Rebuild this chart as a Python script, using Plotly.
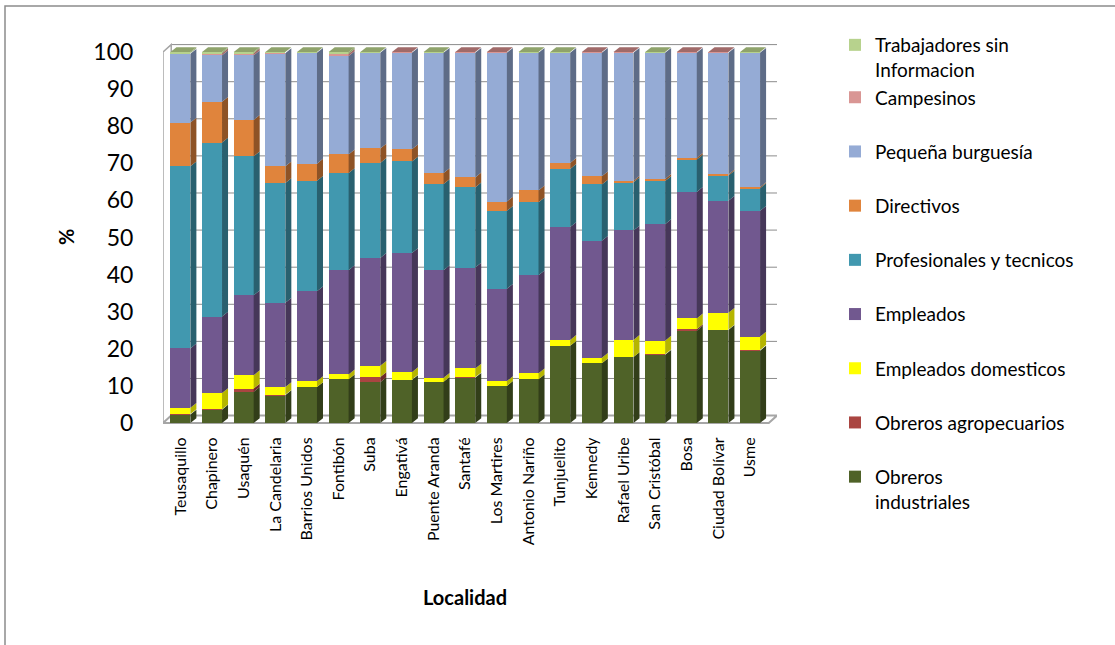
import plotly.graph_objects as go

localidades = ["Teusaquillo", "Chapinero", "Usaquén", "La Candelaria", "Barrios Unidos",
               "Fontibón", "Suba", "Engativá", "Puente Aranda", "Santafé", "Los Martires",
               "Antonio Nariño", "Tunjuelito", "Kennedy", "Rafael Uribe", "San Cristóbal",
               "Bosa", "Ciudad Bolívar", "Usme"]

obreros_industriales = [2.3, 3.6, 8.4, 7.5, 9.7, 11.8, 11.0, 11.6, 11.1, 12.2, 10.0, 11.8, 20.8, 16.1, 17.8, 18.4, 24.9, 25.1, 19.5]
obreros_agropecuarios = [0.1, 0.1, 0.9, 0.1, 0.0, 0.0, 1.4, 0.1, 0.0, 0.1, 0.0, 0.0, 0.0, 0.0, 0.0, 0.1, 0.4, 0.1, 0.2]
empleados_domesticos = [1.7, 4.4, 3.6, 2.1, 1.6, 1.3, 3.0, 2.0, 1.1, 2.4, 1.3, 1.6, 1.6, 1.5, 4.6, 3.7, 2.9, 4.5, 3.6]
empleados = [16.0, 20.6, 21.5, 22.7, 24.2, 28.1, 29.1, 32.1, 29.0, 27.2, 24.9, 26.4, 30.4, 31.5, 29.5, 31.4, 34.1, 30.2, 33.9]
profesionales_tecnicos = [49.1, 46.9, 37.5, 32.3, 29.8, 26.2, 25.6, 24.7, 23.2, 21.6, 21.0, 19.7, 15.7, 15.2, 13.0, 11.6, 8.7, 6.8, 6.1]
directivos = [11.8, 11.0, 9.8, 4.5, 4.6, 5.0, 3.9, 3.3, 3.0, 2.7, 2.5, 3.2, 1.6, 2.2, 0.4, 0.6, 0.5, 0.3, 0.3]
pequena_burguesia = [18.5, 12.5, 17.4, 30.5, 29.9, 26.5, 25.8, 26.0, 32.4, 33.6, 40.1, 37.1, 29.7, 33.3, 34.5, 34.0, 28.3, 32.8, 36.2]
campesinos = [0.2, 0.6, 0.6, 0.1, 0.1, 0.6, 0.1, 0.2, 0.0, 0.2, 0.2, 0.1, 0.0, 0.2, 0.2, 0.0, 0.2, 0.2, 0.0]
trabajadores_sin_info = [0.3, 0.3, 0.3, 0.2, 0.1, 0.5, 0.1, 0.0, 0.2, 0.0, 0.0, 0.1, 0.2, 0.0, 0.0, 0.2, 0.0, 0.0, 0.2]

y_ticks = [0, 10, 20, 30, 40, 50, 60, 70, 80, 90, 100]

# (legend label, values, front colour, side colour, legend group, legend rank), bottom to top
series = [
    ("Obreros<br>industriales", obreros_industriales, "#4F6228", "#323E19", "oi", 9),
    ("Obreros agropecuarios", obreros_agropecuarios, "#AA4541", "#6B2A28", "oa", 8),
    ("Empleados domesticos", empleados_domesticos, "#FFFF00", "#B5B500", "ed", 7),
    ("Empleados", empleados, "#71588F", "#463759", "emp", 6),
    ("Profesionales y tecnicos", profesionales_tecnicos, "#4198AF", "#29606F", "prof", 5),
    ("Directivos", directivos, "#E0843C", "#8E5326", "dir", 4),
    ("Pequeña burguesía", pequena_burguesia, "#95ABD5", "#5E6C87", "pb", 3),
    ("Campesinos", campesinos, "#D99694", "#A06A69", "top", 2),
    ("Trabajadores sin<br>Informacion", trabajadores_sin_info, "#B7D28D", "#8FA36B", "top", 1),
]

FONT = "Lato, 'Open Sans', sans-serif"
W, H = 1115, 645
M_L, M_R, M_T, M_B = 163, 338, 43, 218
X_RANGE = [-0.55, 18.85]
Y_RANGE = [-1.078, 102.43]


def px_to_paper_x(px):
    return (px - M_L) / (W - M_L - M_R)


def px_to_paper_y(py):
    return (H - M_B - py) / (H - M_T - M_B)


n = len(localidades)
xs = list(range(n))
half = 0.315   # half bar width in category units
dx = 0.19      # depth offset of the bar faces (x)
dy = 1.3       # depth offset of the bar faces (y)
wdx = 0.26     # depth of the walls (x)
wdy = 2.0      # depth of the walls (y)

fig = go.Figure()

base = [0.0] * n
top_colour = ["#8FA36B"] * n
side_traces = []
for name, vals, col, side, grp, rank in series:
    fig.add_trace(go.Bar(
        x=xs, y=vals, name=name, marker=dict(color=col, line=dict(width=0)),
        width=2 * half, legendgroup=grp, legendrank=rank, hoverinfo="skip",
    ))
    px, py = [], []
    for i, v in enumerate(vals):
        b = base[i]
        t = b + v
        if v > 0:
            x0, x1 = i + half, i + half + dx
            px += [x0, x1, x1, x0, x0, None]
            py += [b, b + dy, t + dy, t, b, None]
            top_colour[i] = side
        base[i] = t
    side_traces.append(go.Scatter(
        x=px, y=py, mode="lines", fill="toself", fillcolor=side,
        line=dict(width=0, color=side), showlegend=False, hoverinfo="skip",
    ))

for tr in side_traces:
    fig.add_trace(tr)

# top faces of the stacks
for i in range(n):
    t = base[i]
    fig.add_trace(go.Scatter(
        x=[i - half, i + half, i + half + dx, i - half + dx, i - half],
        y=[t, t, t + dy, t + dy, t],
        mode="lines", fill="toself", fillcolor=top_colour[i],
        line=dict(width=0, color=top_colour[i]), showlegend=False, hoverinfo="skip",
    ))

# back-wall gridlines, left wall and floor
wall_shapes = []
for t in y_ticks:
    wall_shapes.append(dict(
        type="line", xref="x", yref="y", layer="below",
        x0=X_RANGE[0] + wdx, x1=X_RANGE[1], y0=t + wdy, y1=t + wdy,
        line=dict(color="#8C8C8C", width=1),
    ))
    wall_shapes.append(dict(
        type="line", xref="x", yref="y", layer="below",
        x0=X_RANGE[0], x1=X_RANGE[0] + wdx, y0=t, y1=t + wdy,
        line=dict(color="#A6A6A6", width=1),
    ))
wall_shapes.append(dict(
    type="path", xref="x", yref="y", layer="below",
    path=(f"M {X_RANGE[0]} 0 L {X_RANGE[0]} 100 L {X_RANGE[0] + wdx} {100 + wdy} "
          f"L {X_RANGE[0] + wdx} {wdy} Z"),
    fillcolor="white", line=dict(color="#A6A6A6", width=1.5),
))
wall_shapes.append(dict(
    type="path", xref="x", yref="y", layer="below",
    path=(f"M {X_RANGE[0]} 0 L {X_RANGE[1] - wdx} 0 L {X_RANGE[1]} {wdy} "
          f"L {X_RANGE[0] + wdx} {wdy} Z"),
    fillcolor="white", line=dict(color="#A6A6A6", width=2),
))
# chart frame
wall_shapes.append(dict(
    type="rect", xref="paper", yref="paper", layer="below",
    x0=px_to_paper_x(5), x1=px_to_paper_x(1125), y0=px_to_paper_y(660), y1=px_to_paper_y(6),
    line=dict(color="#8C8C8C", width=1.5), fillcolor="rgba(0,0,0,0)",
))

fig.update_layout(
    width=W, height=H, autosize=False,
    barmode="stack",
    paper_bgcolor="white", plot_bgcolor="white",
    margin=dict(l=M_L, r=M_R, t=M_T, b=M_B),
    font=dict(family=FONT, color="black"),
    showlegend=True,
    legend=dict(
        x=px_to_paper_x(835), y=px_to_paper_y(26), xanchor="left", yanchor="top",
        traceorder="grouped", tracegroupgap=26.5, valign="top",
        font=dict(family=FONT, size=19, color="black"),
        bgcolor="rgba(0,0,0,0)", itemclick=False, maxheight=620,
    ),
    xaxis=dict(
        range=X_RANGE, tickmode="array", tickvals=xs, ticktext=localidades,
        tickangle=-90, tickfont=dict(family=FONT, size=16, color="black"),
        showgrid=False, zeroline=False, showline=False,
        ticks="outside", ticklen=3, tickcolor="rgba(0,0,0,0)",
    ),
    yaxis=dict(
        range=Y_RANGE, tickmode="array", tickvals=y_ticks,
        tickfont=dict(family=FONT, size=23, color="black"),
        showgrid=False, zeroline=False, showline=False,
        ticks="outside", ticklen=24, tickcolor="rgba(0,0,0,0)",
    ),
    annotations=[
        dict(text="<b>%</b>", x=px_to_paper_x(66), y=px_to_paper_y(237),
             xref="paper", yref="paper", xanchor="center", yanchor="middle",
             showarrow=False, textangle=-90, font=dict(family=FONT, size=20, color="black")),
        dict(text="<b>Localidad</b>", x=px_to_paper_x(465), y=px_to_paper_y(597),
             xref="paper", yref="paper", xanchor="center", yanchor="middle",
             showarrow=False, font=dict(family=FONT, size=20, color="black")),
    ],
    shapes=wall_shapes,
)

fig.write_html("out.html")
